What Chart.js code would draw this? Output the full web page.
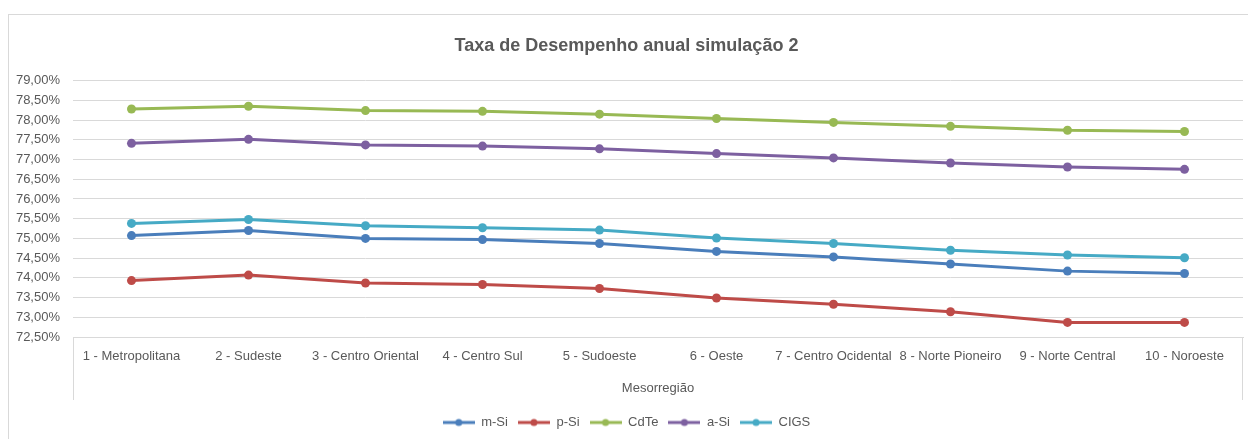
<!DOCTYPE html>
<html>
<head>
<meta charset="utf-8">
<script src="https://cdn.jsdelivr.net/npm/chart.js@4"></script>
<style>
  html, body { margin: 0; padding: 0; background: #fff; }
  #wrap { width: 1248px; height: 439px; position: relative; }
</style>
</head>
<body>
<div id="wrap"><canvas id="perfChart" width="1248" height="439"></canvas></div>
<script>
// data (percent)
const regions = ['1 - Metropolitana', '2 - Sudeste', '3 - Centro Oriental', '4 - Centro Sul', '5 - Sudoeste',
  '6 - Oeste', '7 - Centro Ocidental', '8 - Norte Pioneiro', '9 - Norte Central', '10 - Noroeste'];
const mSi  = [75.07, 75.20, 75.00, 74.97, 74.87, 74.67, 74.53, 74.35, 74.17, 74.11];
const pSi  = [73.93, 74.07, 73.87, 73.83, 73.73, 73.49, 73.33, 73.14, 72.87, 72.87];
const cdTe = [78.28, 78.35, 78.24, 78.22, 78.15, 78.04, 77.94, 77.84, 77.74, 77.71];
const aSi  = [77.41, 77.51, 77.37, 77.34, 77.27, 77.15, 77.04, 76.91, 76.81, 76.75];
const cigs = [75.38, 75.48, 75.32, 75.27, 75.21, 75.01, 74.87, 74.70, 74.58, 74.51];
const yMin = 72.5, yMax = 79, yStep = 0.5;

const FONT = "'Liberation Sans Narrow', 'Arial Narrow', 'Liberation Sans', sans-serif";
const TEXT = '#595959';

// legend marker: short line with a dot, like the spreadsheet legend
function legendMark(color) {
  const c = document.createElement('canvas');
  c.width = 32; c.height = 10;
  const g = c.getContext('2d');
  g.strokeStyle = color; g.lineWidth = 3;
  g.beginPath(); g.moveTo(0, 5); g.lineTo(32, 5); g.stroke();
  g.fillStyle = color;
  g.beginPath(); g.arc(16, 5, 3.5, 0, Math.PI * 2); g.fill();
  return c;
}

function series(label, data, color) {
  return {
    label, data,
    borderColor: color,
    backgroundColor: color,
    borderWidth: 3,
    pointRadius: 4.5,
    pointHoverRadius: 5,
    pointBackgroundColor: color,
    pointBorderWidth: 0,
    pointStyle: 'circle',
    tension: 0,
    legendMark: legendMark(color)
  };
}

// outer frame + the box round the category labels
const frame = {
  id: 'frame',
  afterDraw(chart) {
    const { ctx, chartArea } = chart;
    const xs = chart.scales.x;
    ctx.save();
    ctx.strokeStyle = '#d9d9d9';
    ctx.lineWidth = 1;
    ctx.strokeRect(8.5, 14.5, 1300, 500);
    ctx.beginPath();
    ctx.moveTo(Math.round(chartArea.left) + 0.5, chartArea.bottom);
    ctx.lineTo(Math.round(chartArea.left) + 0.5, xs.bottom - 6);
    ctx.moveTo(Math.round(chartArea.right) - 0.5, chartArea.bottom);
    ctx.lineTo(Math.round(chartArea.right) - 0.5, xs.bottom - 6);
    ctx.stroke();
    ctx.restore();
  }
};

const datasets = [
  series('m-Si', mSi, '#4a7ebb'),
  series('p-Si', pSi, '#be4b48'),
  series('CdTe', cdTe, '#98b954'),
  series('a-Si', aSi, '#7d60a0'),
  series('CIGS', cigs, '#46aac5')
];

new Chart(document.getElementById('perfChart'), {
  type: 'line',
  data: { labels: regions, datasets },
  plugins: [frame],
  options: {
    responsive: false,
    animation: false,
    layout: { padding: { left: 10, right: 5, top: 0, bottom: 0 } },
    plugins: {
      title: {
        display: true,
        text: 'Taxa de Desempenho anual simulação 2',
        color: TEXT,
        font: { family: FONT, size: 18, weight: 'bold' },
        padding: { top: 35, bottom: 24 }
      },
      legend: {
        position: 'bottom',
        labels: {
          color: TEXT,
          font: { family: FONT, size: 13 },
          usePointStyle: true,
          pointStyleWidth: 32,
          padding: 10,
          generateLabels(chart) {
            return chart.data.datasets.map((d, i) => ({
              text: d.label,
              fillStyle: d.borderColor,
              strokeStyle: d.borderColor,
              lineWidth: 0,
              pointStyle: d.legendMark,
              fontColor: TEXT,
              datasetIndex: i,
              hidden: false
            }));
          }
        }
      },
      tooltip: { enabled: false }
    },
    scales: {
      x: {
        offset: true,
        afterFit(scale) { scale.height = 69; },
        grid: { display: false, drawTicks: false },
        border: { display: true, color: '#d9d9d9', width: 1 },
        ticks: {
          color: TEXT,
          font: { family: FONT, size: 13 },
          padding: 12,
          maxRotation: 0,
          autoSkip: false
        },
        title: {
          display: true,
          text: 'Mesorregião',
          color: TEXT,
          font: { family: FONT, size: 13 },
          padding: { top: 10, bottom: 10 }
        }
      },
      y: {
        min: yMin,
        max: yMax,
        afterFit(scale) { scale.width = 63; },
        grid: { color: '#d9d9d9', drawTicks: false, lineWidth: 1 },
        border: { display: false },
        ticks: {
          stepSize: yStep,
          color: TEXT,
          font: { family: FONT, size: 13 },
          padding: 13,
          callback: v => v.toFixed(2).replace('.', ',') + '%'
        }
      }
    }
  }
});
</script>
</body>
</html>
